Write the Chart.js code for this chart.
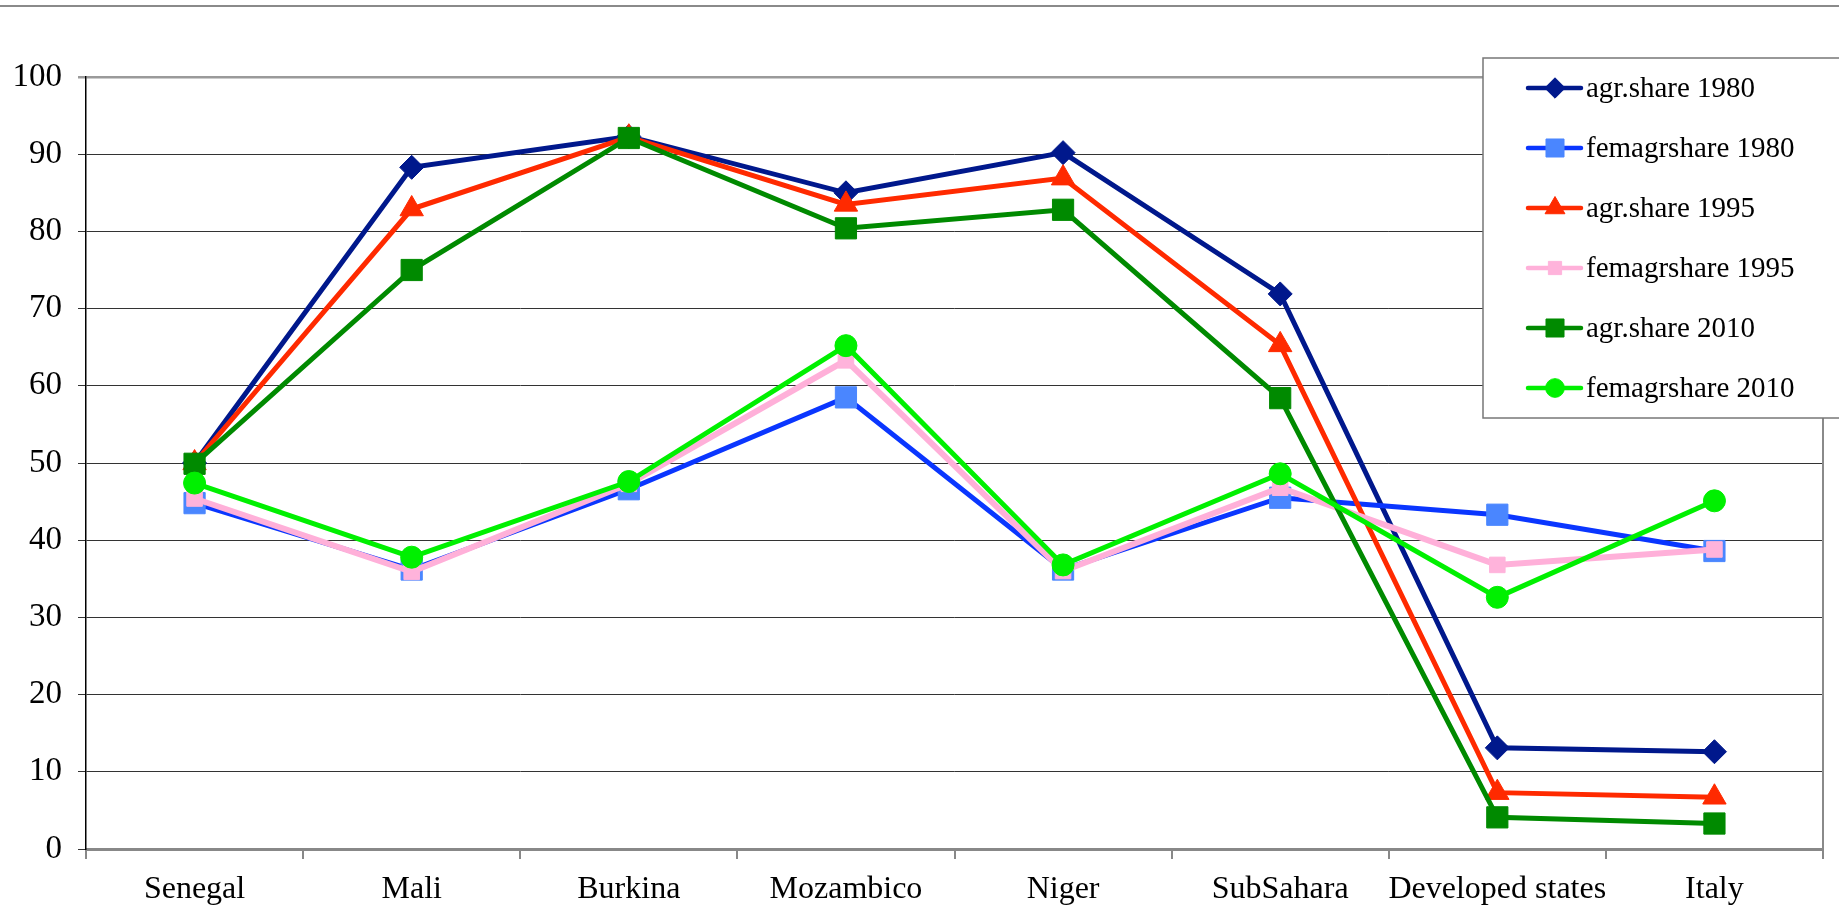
<!DOCTYPE html>
<html>
<head>
<meta charset="utf-8">
<script src="https://cdn.jsdelivr.net/npm/chart.js@4.4.1/dist/chart.umd.min.js"></script>
<style>
  html, body { margin: 0; padding: 0; background: #ffffff; overflow: hidden; }
  #wrap { width: 1839px; height: 909px; position: relative; }
</style>
</head>
<body>
<div id="wrap"><canvas id="c"></canvas></div>
<script>
// ---- data ----
const categories = ['Senegal', 'Mali', 'Burkina', 'Mozambico', 'Niger', 'SubSahara', 'Developed states', 'Italy'];
const yTickValues = [0, 10, 20, 30, 40, 50, 60, 70, 80, 90, 100];
const seriesNames = ['agr.share 1980', 'femagrshare 1980', 'agr.share 1995', 'femagrshare 1995', 'agr.share 2010', 'femagrshare 2010'];

const agrShare1980     = [50.0, 88.3, 92.3, 85.0, 90.2, 71.9, 13.1, 12.6];
const femAgrShare1980  = [44.8, 36.2, 46.6, 58.5, 36.2, 45.5, 43.3, 38.6];
const agrShare1995     = [50.0, 82.9, 92.2, 83.5, 86.9, 65.3,  7.3,  6.7];
const femAgrShare1995  = [45.4, 35.9, 47.3, 63.3, 36.0, 46.8, 36.8, 38.8];
const agrShare2010     = [49.9, 75.0, 92.1, 80.4, 82.8, 58.4,  4.1,  3.3];
const femAgrShare2010  = [47.4, 37.8, 47.6, 65.2, 36.8, 48.6, 32.6, 45.1];

// ---- styles ----
const styles = [
  { line: '#00188C', fill: '#00188C', shape: 'rectRot',  r: 12,   w: 5 },
  { line: '#0A36FF', fill: '#4A86FF', shape: 'rect',     r: 15,   w: 5 },
  { line: '#FF2A00', fill: '#FF2A00', shape: 'triangle', r: 13.5, w: 5 },
  { line: '#FFB0D9', fill: '#FFB3DB', shape: 'rect',     r: 11,   w: 6 },
  { line: '#008A00', fill: '#008A00', shape: 'rect',     r: 15,   w: 5 },
  { line: '#00F000', fill: '#00F000', shape: 'circle',   r: 11,   w: 5 }
];
const seriesValues = [agrShare1980, femAgrShare1980, agrShare1995, femAgrShare1995, agrShare2010, femAgrShare2010];

const datasets = seriesValues.map((vals, i) => ({
  label: seriesNames[i],
  data: vals,
  borderColor: styles[i].line,
  backgroundColor: styles[i].fill,
  pointBackgroundColor: styles[i].fill,
  pointBorderColor: styles[i].fill,
  pointBorderWidth: 1,
  pointStyle: styles[i].shape,
  pointRadius: styles[i].r,
  pointHoverRadius: styles[i].r,
  borderWidth: styles[i].w,
  tension: 0,
  fill: false,
  order: seriesValues.length - i
}));

Chart.defaults.font.family = '"Liberation Serif", "Times New Roman", serif';
Chart.defaults.color = '#000';

const framePlugin = {
  id: 'frame',
  beforeDraw(chart) {
    const ctx = chart.ctx;
    ctx.save();
    ctx.fillStyle = '#ffffff';
    ctx.fillRect(0, 0, chart.width, chart.height);
    ctx.restore();
  },
  afterDraw(chart) {
    const ctx = chart.ctx, a = chart.chartArea;
    ctx.save();
    // top rule across the page
    ctx.strokeStyle = '#8a8a8a';
    ctx.lineWidth = 2;
    ctx.beginPath(); ctx.moveTo(0, 6); ctx.lineTo(chart.width, 6); ctx.stroke();
    // right border of plot
    ctx.beginPath(); ctx.moveTo(a.right, a.top); ctx.lineTo(a.right, a.bottom); ctx.stroke();

    // legend box
    const L = 1483, T = 58, W = 400, H = 360;
    ctx.fillStyle = '#ffffff';
    ctx.fillRect(L, T, W, H);
    ctx.strokeStyle = '#777777';
    ctx.lineWidth = 1.5;
    ctx.strokeRect(L, T, W, H);

    chart.data.datasets.forEach((ds, i) => {
      const y = 88 + i * 60;
      ctx.strokeStyle = ds.borderColor;
      ctx.lineWidth = 4.5;
      ctx.lineCap = 'round';
      ctx.beginPath(); ctx.moveTo(1528, y); ctx.lineTo(1581, y); ctx.stroke();
      ctx.lineCap = 'butt';
      ctx.fillStyle = ds.pointBackgroundColor;
      ctx.strokeStyle = ds.pointBorderColor;
      ctx.lineWidth = 1;
      Chart.helpers.drawPoint(ctx, { pointStyle: ds.pointStyle, radius: ds.pointRadius * 0.85, borderWidth: 1, rotation: 0 }, 1555, y);
      ctx.fillStyle = '#000';
      ctx.font = '29px "Liberation Serif", "Times New Roman", serif';
      ctx.textBaseline = 'middle';
      ctx.textAlign = 'left';
      ctx.fillText(ds.label, 1586, y + 1);
    });
    ctx.restore();
  }
};

new Chart(document.getElementById('c'), {
  type: 'line',
  data: { labels: categories, datasets: datasets },
  options: {
    responsive: true,
    maintainAspectRatio: false,
    animation: false,
    devicePixelRatio: 1,
    layout: { padding: { top: 77, right: 6, bottom: 0, left: 0 } },
    plugins: {
      legend: { display: false },
      tooltip: { enabled: false },
      title: { display: false }
    },
    scales: {
      x: {
        type: 'category',
        offset: true,
        grid: {
          offset: true,
          drawOnChartArea: false,
          drawTicks: true,
          tickLength: 10,
          color: '#888888',
          lineWidth: 2
        },
        border: { display: true, color: '#888888', width: 3 },
        ticks: {
          font: { size: 32 },
          color: '#000',
          padding: 11,
          maxRotation: 0,
          autoSkip: false
        },
        afterFit(scale) { scale.height = 60; }
      },
      y: {
        min: 0,
        max: 100,
        afterBuildTicks(scale) { scale.ticks = yTickValues.map(v => ({ value: v })); },
        grid: {
          color: (c) => (c.tick && c.tick.value === 100) ? '#9a9a9a' : '#333333',
          lineWidth: (c) => (c.tick && c.tick.value === 100) ? 2.5 : 1,
          drawTicks: true,
          tickLength: 8
        },
        border: { display: true, color: '#000000', width: 1.5 },
        ticks: {
          font: { size: 33 },
          color: '#000',
          padding: 16
        },
        afterFit(scale) { scale.width = 86; }
      }
    }
  },
  plugins: [framePlugin]
});
</script>
</body>
</html>
